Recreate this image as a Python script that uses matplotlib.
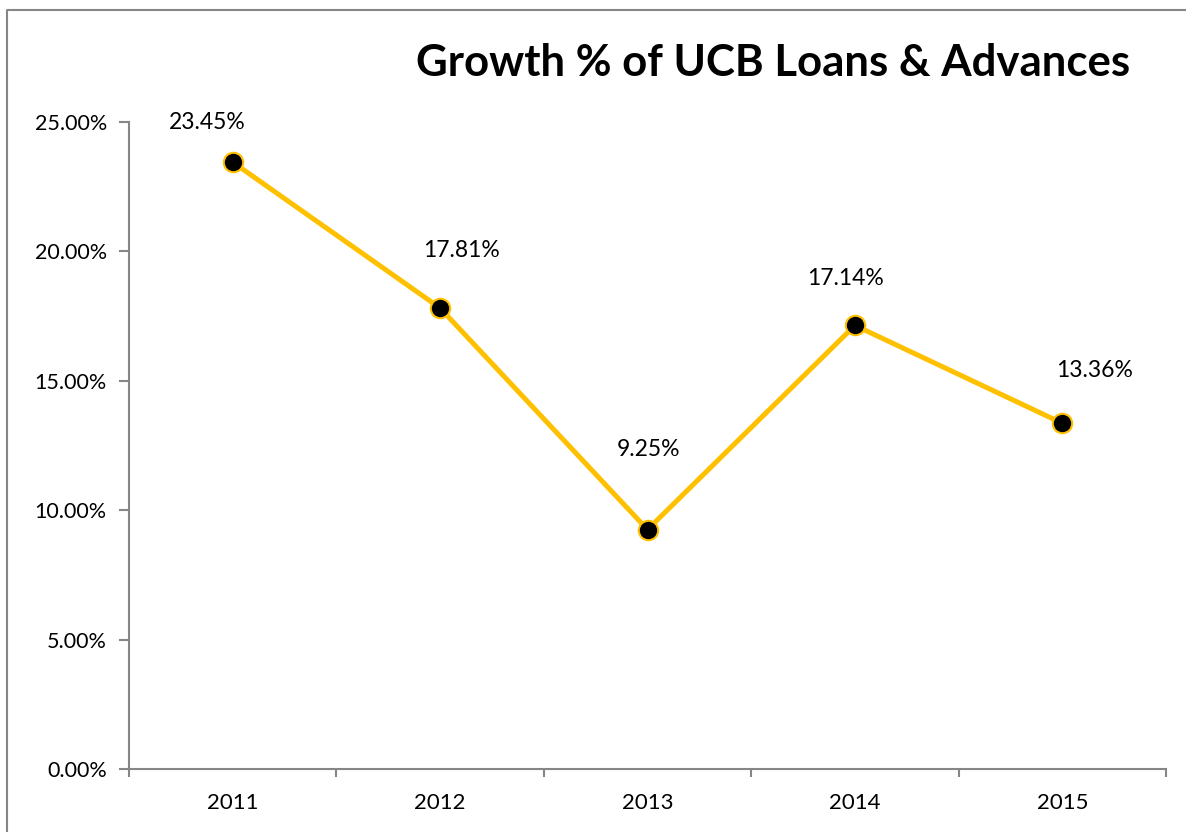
import matplotlib.pyplot as plt
from matplotlib.lines import Line2D
from matplotlib.ticker import FuncFormatter, FixedLocator

years = ["2011", "2012", "2013", "2014", "2015"]
growth = [23.45, 17.81, 9.25, 17.14, 13.36]
labels = ["23.45%", "17.81%", "9.25%", "17.14%", "13.36%"]

# manual label placement (pixels from the point), like the Excel original
label_offsets = [(-25, 40), (21, 58), (1, 80), (-9, 47), (32, 53)]

plt.rcParams['font.family'] = ['Lato', 'DejaVu Sans']

fig = plt.figure(figsize=(11.86, 8.32), dpi=100)
ax = fig.add_axes([129 / 1186, 1 - 769 / 832, (1166 - 129) / 1186, (769 - 122) / 832])

grey = '#868686'
x = list(range(len(years)))
ax.plot(x, growth, color='#FFC000', lw=3.6, marker='o', ms=14,
        mfc='black', mec='#FFC000', mew=1.5, zorder=3)

for xi, yi, txt, (dx, dy) in zip(x, growth, labels, label_offsets):
    ax.annotate(txt, (xi, yi), xytext=(dx, dy), textcoords='offset pixels',
                ha='center', va='center', fontsize=16.5)

ax.set_xlim(-0.5, len(years) - 0.5)
ax.set_ylim(0, 25)
ax.set_yticks([0, 5, 10, 15, 20, 25])
ax.yaxis.set_major_formatter(FuncFormatter(lambda v, p: f"{v:.2f}%"))

ax.xaxis.set_major_locator(FixedLocator([i - 0.5 for i in range(len(years) + 1)]))
ax.xaxis.set_minor_locator(FixedLocator(x))
ax.set_xticklabels([], minor=False)
ax.set_xticklabels(years, minor=True)
ax.tick_params(axis='x', which='major', length=6, color=grey, width=1.5, direction='out')
ax.tick_params(axis='x', which='minor', length=0, pad=17, labelsize=16)
ax.tick_params(axis='y', length=7, color=grey, width=1.5, direction='out', labelsize=15.5, pad=9)

for s in ['top', 'right']:
    ax.spines[s].set_visible(False)
for s in ['left', 'bottom']:
    ax.spines[s].set_color(grey)
    ax.spines[s].set_linewidth(1.5)

fig.text(1130 / 1186, 1 - 63 / 832, "Growth % of UCB Loans & Advances",
         ha='right', va='center', fontsize=31.5, fontweight='bold')

# chart-area border: only the top and left edges are inside the image
bx, by = 7 / 1186, 1 - 10 / 832
fig.lines.append(Line2D([bx, bx, 1.0], [0.0, by, by], transform=fig.transFigure,
                        color=grey, lw=1.5))

fig.savefig("out.png", dpi=100)
